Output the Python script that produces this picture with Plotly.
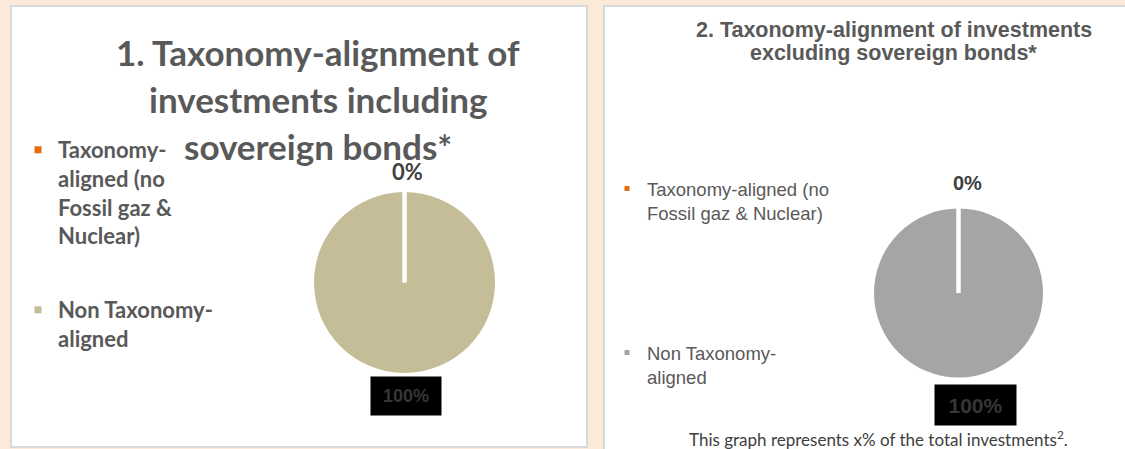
import math
import plotly.graph_objects as go

# ---------------- data ----------------
CATEGORIES = ["Taxonomy-aligned (no Fossil gaz & Nuclear)", "Non Taxonomy-aligned"]
LEGEND_LABELS_1 = ["Taxonomy-<br>aligned (no<br>Fossil gaz &<br>Nuclear)", "Non Taxonomy-<br>aligned"]
LEGEND_LABELS_2 = ["Taxonomy-aligned (no<br>Fossil gaz & Nuclear)", "Non Taxonomy-<br>aligned"]
VALUES_INCL = [0, 100]
VALUES_EXCL = [0, 100]
COLORS_INCL = ["#E46C0A", "#C4BD97"]
COLORS_EXCL = ["#E46C0A", "#A5A5A5"]
TITLE_1_LINES = ["1. Taxonomy-alignment of", "investments including", "sovereign bonds*"]
TITLE_2_LINES = ["2. Taxonomy-alignment of investments", "excluding sovereign bonds*"]
FOOTNOTE = "This graph represents x% of the total investments<sup>2</sup>."

W, H = 1125, 449
PEACH = "#FBE9DA"
BORDER = "#D9D9D9"
TXT = "#595959"


def px(x):
    return x / W


def py(y):
    return 1 - y / H


def pct(vals):
    t = sum(vals)
    return [f"{v / t * 100:.0f}%" for v in vals]


fig = go.Figure()
shapes = [
    dict(type="rect", xref="paper", yref="paper", x0=px(11), x1=px(587), y0=py(447), y1=py(6),
         fillcolor="white", line=dict(color=BORDER, width=2), layer="below"),
    dict(type="rect", xref="paper", yref="paper", x0=px(604), x1=px(1135), y0=py(460), y1=py(6),
         fillcolor="white", line=dict(color=BORDER, width=2), layer="below"),
]

# pies
PIE1 = dict(cx=404.5, cy=282.5, r=90.5)
PIE2 = dict(cx=958.5, cy=293.0, r=84.5)
for vals, cols, p in [(VALUES_INCL, COLORS_INCL, PIE1), (VALUES_EXCL, COLORS_EXCL, PIE2)]:
    fig.add_trace(go.Pie(
        labels=CATEGORIES, values=vals, sort=False, direction="clockwise", rotation=0,
        marker=dict(colors=cols, line=dict(color="white", width=0)),
        textinfo="none", hoverinfo="label+percent", showlegend=False,
        domain=dict(x=[px(p["cx"] - p["r"]), px(p["cx"] + p["r"])],
                    y=[py(p["cy"] + p["r"]), py(p["cy"] - p["r"])]),
    ))
    # white slice separators at each slice boundary (angles from the data)
    total, cum = sum(vals), 0
    for v in vals:
        th = 2 * math.pi * cum / total
        shapes.append(dict(type="line", xref="paper", yref="paper", layer="above",
                           x0=px(p["cx"]), y0=py(p["cy"]),
                           x1=px(p["cx"] + (p["r"] + 1) * math.sin(th)),
                           y1=py(p["cy"] - (p["r"] + 1) * math.cos(th)),
                           line=dict(color="white", width=4)))
        cum += v

# legend entries (one legend box per entry so that placement matches)
legend_specs = [
    ("legend", LEGEND_LABELS_1[0], COLORS_INCL[0], 7, 58, 129, dict(family="Lato", size=22, weight="bold")),
    ("legend2", LEGEND_LABELS_1[1], COLORS_INCL[1], 7, 58, 289, dict(family="Lato", size=22, weight="bold")),
    ("legend3", LEGEND_LABELS_2[0], COLORS_EXCL[0], 5, 647, 170, dict(family="Liberation Sans", size=18.5)),
    ("legend4", LEGEND_LABELS_2[1], COLORS_EXCL[1], 5, 647, 334, dict(family="Liberation Sans", size=18.5)),
]
legend_layout = {}
for lg, name, col, size, tx, ty, font in legend_specs:
    fig.add_trace(go.Scatter(x=[None], y=[None], mode="markers", name=name, legend=lg,
                             marker=dict(symbol="square", size=size, color=col), hoverinfo="skip"))
    legend_layout[lg] = dict(x=px(tx - 40), y=py(ty), xanchor="left", yanchor="top",
                             bgcolor="rgba(0,0,0,0)", borderwidth=0, valign="top",
                             font=dict(color=TXT, **font), itemclick=False, itemdoubleclick=False)

annotations = []
for i, line in enumerate(TITLE_1_LINES):
    annotations.append(dict(x=px(318), y=py(52 + i * 47), xref="paper", yref="paper",
                            text=line, showarrow=False, xanchor="center", yanchor="middle",
                            font=dict(family="Lato", size=35, color=TXT, weight="bold")))
for i, line in enumerate(TITLE_2_LINES):
    annotations.append(dict(x=px(893.5), y=py(30 + i * 23), xref="paper", yref="paper", text=line,
                            showarrow=False, xanchor="center", yanchor="middle",
                            font=dict(family="Liberation Sans", size=21.5, color=TXT, weight="bold")))

# percentage labels
p1, p2 = pct(VALUES_INCL), pct(VALUES_EXCL)
lab = [
    dict(x=px(407), y=py(171), text=p1[0], font=dict(family="Lato", size=22, color="#404040", weight="bold")),
    dict(x=px(406), y=py(396), text=p1[1], width=70, height=38, bgcolor="black", borderpad=0,
         font=dict(family="Liberation Sans", size=18, color="#363636", weight="bold")),
    dict(x=px(967), y=py(183), text=p2[0], font=dict(family="Liberation Sans", size=20, color="#404040", weight="bold")),
    dict(x=px(975.5), y=py(405), text=p2[1], width=81, height=40, bgcolor="black", borderpad=0,
         font=dict(family="Liberation Sans", size=21, color="#363636", weight="bold")),
]
for a in lab:
    a.update(xref="paper", yref="paper", showarrow=False, xanchor="center", yanchor="middle")
annotations += lab

annotations.append(dict(x=px(878), y=py(438), xref="paper", yref="paper", text=FOOTNOTE,
                        showarrow=False, xanchor="center", yanchor="middle",
                        font=dict(family="Lato", size=17, color="#404040")))

fig.update_layout(
    width=W, height=H, margin=dict(l=0, r=0, t=0, b=0),
    paper_bgcolor=PEACH, plot_bgcolor="rgba(0,0,0,0)",
    xaxis=dict(visible=False), yaxis=dict(visible=False),
    annotations=annotations, shapes=shapes, **legend_layout,
)

fig.write_html("out.html", config={"displayModeBar": False},
               post_script="document.body.style.margin='0';document.body.style.overflow='hidden';")
